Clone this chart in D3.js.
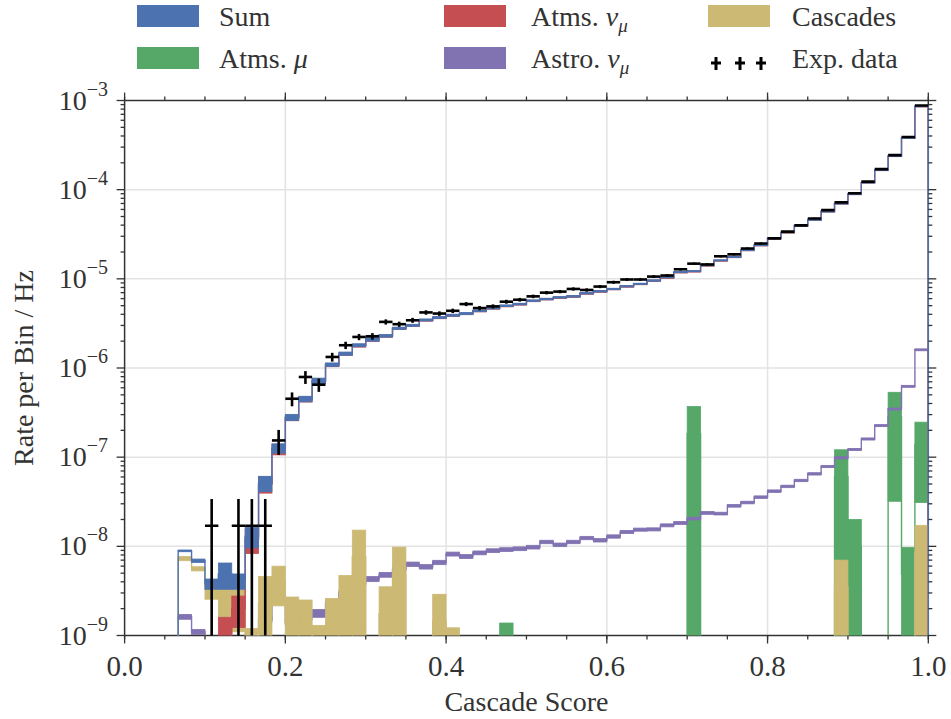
<!DOCTYPE html>
<html>
<head>
<meta charset="utf-8">
<script src="https://cdn.jsdelivr.net/npm/d3@7"></script>
<style>
    body { margin: 0; background: #fff; }
    svg { display: block; }
    svg text { fill: #333; }
</style>
</head>
<body>
<svg id="chart" width="951" height="719" font-family="'Liberation Serif', 'DejaVu Serif', serif"></svg>
<script>
/**
 * Data, one value per bin of cascade score (60 bins from 0 to 1)
 */
var nBins = 60;
var binEdges = d3.range(nBins + 1).map(function(i){ return i / nBins; });

var sumVals = [0,0,0,0, 8.9e-9,6.9e-9,3.8e-9,4.9e-9,4.1e-9,1.3e-8,
    5.1e-8,1.26e-7,2.8e-7,4.5e-7,7.2e-7,1.09e-6,1.45e-6,1.8e-6,2.1e-6,2.3e-6,
    2.79e-6,3.01e-6,3.46e-6,3.68e-6,3.91e-6,4.08e-6,4.38e-6,4.7e-6,4.99e-6,5.21e-6,
    5.69e-6,5.94e-6,6.2e-6,6.37e-6,6.89e-6,7.25e-6,7.7e-6,8.26e-6,8.78e-6,9.58e-6,
    1.04e-5,1.19e-5,1.22e-5,1.42e-5,1.61e-5,1.76e-5,2.1e-5,2.38e-5,2.84e-5,3.32e-5,
    3.95e-5,4.6e-5,5.7e-5,7.0e-5,8.9e-5,1.2e-4,1.66e-4,2.38e-4,3.8e-4,8.6e-4];
var sumErrs = [0,0,0,0, 0.2e-9,0.3e-9,0.5e-9,1.6e-9,0.8e-9,3.4e-9,
    1.0e-8,1.5e-8,2.2e-8,3.2e-8,5e-8,5e-8,6e-8,7e-8,1e-7,8e-8,
    8e-8,8e-8,9e-8,9e-8,1e-7,1e-7,1e-7,1.1e-7,1.1e-7,1.1e-7,
    1.2e-7,1.2e-7,1.2e-7,1.3e-7,1.3e-7,1.4e-7,1.4e-7,1.5e-7,1.5e-7,1.6e-7,
    1.7e-7,1.9e-7,1.9e-7,2.2e-7,2.4e-7,2.6e-7,3e-7,3.3e-7,3.8e-7,4.4e-7,
    5e-7,5.7e-7,7e-7,8.4e-7,1.05e-6,1.4e-6,1.9e-6,2.7e-6,4.2e-6,9.5e-6];

var numuVals = [0,0,0,0, 0,0,0,0.8e-9,2.0e-9,1.2e-8,
    5.0e-8,1.23e-7,2.76e-7,4.45e-7,7.12e-7,1.08e-6,1.44e-6,1.78e-6,2.08e-6,2.28e-6,
    2.77e-6,2.99e-6,3.43e-6,3.65e-6,3.88e-6,4.05e-6,4.35e-6,4.66e-6,4.95e-6,5.17e-6,
    5.65e-6,5.9e-6,6.15e-6,6.32e-6,6.84e-6,7.2e-6,7.65e-6,8.2e-6,8.72e-6,9.52e-6,
    1.03e-5,1.18e-5,1.21e-5,1.41e-5,1.6e-5,1.75e-5,2.09e-5,2.37e-5,2.83e-5,3.3e-5,
    3.93e-5,4.58e-5,5.68e-5,6.97e-5,8.87e-5,1.2e-4,1.65e-4,2.37e-4,3.79e-4,8.58e-4];
var numuErrs = [0,0,0,0, 0,0,0,0.8e-9,0.77e-9,3.7e-9,
    1.05e-8,1.7e-8,2e-8,3e-8,4.5e-8,4.5e-8,5.5e-8,6.5e-8,9e-8,7e-8,
    7e-8,7e-8,8e-8,8e-8,9e-8,9e-8,9e-8,1e-7,1e-7,1e-7,
    1.1e-7,1.1e-7,1.1e-7,1.2e-7,1.2e-7,1.3e-7,1.3e-7,1.4e-7,1.4e-7,1.5e-7,
    1.6e-7,1.8e-7,1.8e-7,2.1e-7,2.3e-7,2.5e-7,2.9e-7,3.2e-7,3.7e-7,4.3e-7,
    4.9e-7,5.6e-7,6.8e-7,8.2e-7,1.03e-6,1.35e-6,1.85e-6,2.6e-6,4.1e-6,9.3e-6];

var muVals = [0,0,0,0,0,0,0,0,0,0, 0,0,0,0,0,0,0,0,0,0,
    0,0,0,0,0,0,0,0,0.69e-9,0, 0,0,0,0,0,0,0,0,0,0,
    0,0,1.85e-7,0,0,0,0,0,0,0, 0,0,0,6.05e-8,1.0e-8,0,0,2.83e-7,4.85e-9,1.39e-7];
var muErrs = [0,0,0,0,0,0,0,0,0,0, 0,0,0,0,0,0,0,0,0,0,
    0,0,0,0,0,0,0,0,0.69e-9,0, 0,0,0,0,0,0,0,0,0,0,
    0,0,1.85e-7,0,0,0,0,0,0,0, 0,0,0,6.05e-8,1.0e-8,0,0,2.51e-7,4.85e-9,1.08e-7];

var astroVals = [0,0,0,0, 1.62e-9,1.1e-9,0.9e-9,0.85e-9,0.9e-9,0.95e-9,
    1.5e-9,2.4e-9,1.4e-9,1.6e-9,1.78e-9,2.3e-9,3.0e-9,3.8e-9,4.3e-9,4.8e-9,
    5.5e-9,6.3e-9,5.9e-9,6.6e-9,8.2e-9,7.7e-9,8.45e-9,8.95e-9,9.2e-9,9.4e-9,
    9.8e-9,1.12e-8,1.04e-8,1.12e-8,1.24e-8,1.17e-8,1.29e-8,1.45e-8,1.54e-8,1.55e-8,
    1.72e-8,1.83e-8,2.05e-8,2.37e-8,2.33e-8,2.85e-8,3.1e-8,3.56e-8,4.16e-8,4.7e-8,
    5.48e-8,6.5e-8,7.86e-8,9.83e-8,1.22e-7,1.6e-7,2.26e-7,3.47e-7,6.23e-7,1.6e-6];
var astroErrs = [0,0,0,0, 0.1e-9,0.07e-9,0.05e-9,0.05e-9,0.05e-9,0.05e-9,
    0.1e-9,0.15e-9,0.1e-9,0.1e-9,0.18e-9,0.2e-9,0.2e-9,0.25e-9,0.28e-9,0.3e-9,
    0.33e-9,0.36e-9,0.34e-9,0.37e-9,0.42e-9,0.4e-9,0.42e-9,0.44e-9,0.45e-9,0.46e-9,
    0.47e-9,0.5e-9,0.48e-9,0.5e-9,0.54e-9,0.52e-9,0.55e-9,0.6e-9,0.62e-9,0.62e-9,
    0.66e-9,0.7e-9,0.75e-9,0.85e-9,0.83e-9,1.0e-9,1.05e-9,1.2e-9,1.35e-9,1.5e-9,
    1.7e-9,2.0e-9,2.3e-9,2.8e-9,3.4e-9,4.4e-9,6e-9,9e-9,1.6e-8,4e-8];

var cascVals = [0,0,0,0, 7.3e-9,5.6e-9,3.3e-9,2.8e-9,2.2e-9,0.6e-9,
    2.3e-9,4.07e-9,1.35e-9,1.25e-9,0.65e-9,1.3e-9,2.35e-9,7.6e-9,0,1.76e-9,
    4.9e-9,0,0,1.45e-9,0.61e-9,0,0,0,0,0, 0,0,0,0,0,0,0,0,0,0,
    0,0,0,0,0,0,0,0,0,0, 0,0,0,3.5e-9,0,0,0,0,0,8.6e-9];
var cascErrs = [0,0,0,0, 0.4e-9,0.3e-9,0.75e-9,1.2e-9,1.1e-9,0.6e-9,
    2.3e-9,1.92e-9,1.35e-9,1.25e-9,0.65e-9,1.3e-9,2.35e-9,7.6e-9,0,1.76e-9,
    4.9e-9,0,0,1.45e-9,0.61e-9,0,0,0,0,0, 0,0,0,0,0,0,0,0,0,0,
    0,0,0,0,0,0,0,0,0,0, 0,0,0,3.5e-9,0,0,0,0,0,8.6e-9];

var dataVals = [0,0,0,0, 0,0,1.7e-8,0,1.7e-8,1.7e-8,
    1.7e-8,1.54e-7,4.52e-7,7.93e-7,6.5e-7,1.33e-6,1.8e-6,2.23e-6,2.27e-6,3.29e-6,
    3.1e-6,3.43e-6,4.2e-6,4.08e-6,4.38e-6,5.21e-6,4.7e-6,4.91e-6,5.54e-6,5.83e-6,
    6.36e-6,7.0e-6,7.19e-6,7.7e-6,7.5e-6,8.19e-6,9.16e-6,9.83e-6,9.83e-6,1.06e-5,
    1.09e-5,1.28e-5,1.48e-5,1.45e-5,1.79e-5,1.88e-5,2.19e-5,2.49e-5,2.84e-5,3.38e-5,
    3.98e-5,4.75e-5,5.9e-5,7.2e-5,9.1e-5,1.23e-4,1.7e-4,2.44e-4,3.9e-4,8.8e-4];
var dataErrs = [0,0,0,0, 0,0,1.7e-8,0,1.7e-8,1.7e-8,
    1.7e-8,4.8e-8,8e-8,1.3e-7,1.1e-7,1.5e-7,1.7e-7,1.8e-7,1.9e-7,2.2e-7,
    2.1e-7,2.2e-7,2.4e-7,2.4e-7,2.5e-7,2.7e-7,2.6e-7,2.6e-7,2.8e-7,2.8e-7,
    2.9e-7,3.1e-7,3.1e-7,3.2e-7,3.2e-7,3.3e-7,3.5e-7,3.6e-7,3.6e-7,3.8e-7,
    3.8e-7,4.1e-7,4.4e-7,4.4e-7,4.9e-7,5e-7,5.4e-7,5.8e-7,6.2e-7,6.7e-7,
    7.3e-7,8e-7,8.9e-7,9.8e-7,1.1e-6,1.3e-6,1.5e-6,1.8e-6,2.3e-6,3.4e-6];

var xTicks = [0, 0.2, 0.4, 0.6, 0.8, 1.0];
var yTicks = [1e-9, 1e-8, 1e-7, 1e-6, 1e-5, 1e-4, 1e-3];
var yTickExps = ["\u22129", "\u22128", "\u22127", "\u22126", "\u22125", "\u22124", "\u22123"];

// colours (seaborn "deep")
var colors = {
    sum: "#4c72b0", mu: "#55a868", numu: "#c44e52",
    astro: "#8172b2", casc: "#ccb974", data: "#000"
};

// layout
var plotLeft = 124.6, plotRight = 928.3, plotTop = 100.5, plotBottom = 635.5;
var fontFamily = "'Liberation Serif', 'DejaVu Serif', serif";

window.onload = function(){
    drawChart();
};

function drawChart(){
    let svg = d3.select("#chart");

    let xScale = d3.scaleLinear().domain([0, 1]).range([plotLeft, plotRight]);
    let yScale = d3.scaleLog().domain([1e-9, 1e-3]).range([plotBottom, plotTop]);

    // values <= 0 drop below the axis (clipped)
    function yPos(v){
        return v > 0 ? Math.min(yScale(v), plotBottom + 30) : plotBottom + 30;
    }

    // grid
    let grid = svg.append("g");
    grid.selectAll("line.gx")
        .data(xTicks.slice(1, -1))
        .enter().append("line")
        .attr("x1", d => xScale(d)).attr("x2", d => xScale(d))
        .attr("y1", plotTop).attr("y2", plotBottom)
        .style("stroke", "#e3e3e3").style("stroke-width", 1.5);
    grid.selectAll("line.gy")
        .data(yTicks.slice(1, -1))
        .enter().append("line")
        .attr("x1", plotLeft).attr("x2", plotRight)
        .attr("y1", d => yScale(d)).attr("y2", d => yScale(d))
        .style("stroke", "#e3e3e3").style("stroke-width", 1.5);

    // clip for the histograms
    svg.append("clipPath").attr("id", "plotClip")
        .append("rect")
        .attr("x", plotLeft - 2).attr("y", plotTop)
        .attr("width", plotRight - plotLeft + 4)
        .attr("height", plotBottom - plotTop);

    // frame
    svg.append("rect")
        .attr("x", plotLeft).attr("y", plotTop)
        .attr("width", plotRight - plotLeft).attr("height", plotBottom - plotTop)
        .style("fill", "none").style("stroke", "#333").style("stroke-width", 1.5);

    let plot = svg.append("g").attr("clip-path", "url(#plotClip)");

    // draw order: atms mu, astro, cascades, atms numu, sum
    drawHist(plot, muVals, muErrs, colors.mu);
    drawHist(plot, astroVals, astroErrs, colors.astro);
    drawHist(plot, cascVals, cascErrs, colors.casc);
    drawHist(plot, numuVals, numuErrs, colors.numu);
    drawHist(plot, sumVals, sumErrs, colors.sum);

    // experimental data as error crosses
    let dataIdx = d3.range(nBins).filter(i => dataVals[i] > 0);
    let crosses = plot.append("g");
    crosses.selectAll("line.h")
        .data(dataIdx).enter().append("line")
        .attr("x1", i => xScale(binEdges[i])).attr("x2", i => xScale(binEdges[i + 1]))
        .attr("y1", i => yScale(dataVals[i])).attr("y2", i => yScale(dataVals[i]))
        .style("stroke", colors.data).style("stroke-width", 2.6);
    crosses.selectAll("line.v")
        .data(dataIdx).enter().append("line")
        .attr("x1", i => xScale((binEdges[i] + binEdges[i + 1]) / 2))
        .attr("x2", i => xScale((binEdges[i] + binEdges[i + 1]) / 2))
        .attr("y1", i => yPos(dataVals[i] + dataErrs[i]))
        .attr("y2", i => yPos(dataVals[i] - dataErrs[i]))
        .style("stroke", colors.data).style("stroke-width", 2.6);

    drawAxes(svg, xScale, yScale);
    drawLegend(svg);

    /**
     * one component: filled band (value +- error) per bin plus a step line
     */
    function drawHist(g, vals, errs, color){
        let idx = d3.range(nBins).filter(i => vals[i] > 0);
        g.append("g").selectAll("rect")
            .data(idx).enter().append("rect")
            .attr("x", i => xScale(binEdges[i]))
            .attr("width", i => xScale(binEdges[i + 1]) - xScale(binEdges[i]))
            .attr("y", i => yPos(vals[i] + errs[i]))
            .attr("height", i => Math.max(0.5, yPos(vals[i] - errs[i]) - yPos(vals[i] + errs[i])))
            .style("fill", color)
            .style("stroke", color).style("stroke-width", 0.8);

        let pts = [[binEdges[0], 0]];
        for (let i = 0; i < nBins; i++) pts.push([binEdges[i], vals[i]]);
        pts.push([binEdges[nBins], vals[nBins - 1]]);
        pts.push([binEdges[nBins], 0]);
        let line = d3.line()
            .x(d => xScale(d[0]))
            .y(d => yPos(d[1]))
            .curve(d3.curveStepAfter);
        g.append("path")
            .attr("d", line(pts))
            .style("fill", "none")
            .style("stroke", color)
            .style("stroke-width", 1.4);
    }
}

function drawAxes(svg, xScale, yScale){
    let tickColor = "#333";
    let xMinor = d3.range(0, 1.0001, 0.05);
    let yMinor = [];
    for (let e = -9; e < -3; e++)
        for (let m = 2; m <= 9; m++) yMinor.push(m * Math.pow(10, e));

    function tickLines(g, vals, pos, len, side){
        g.selectAll(null).data(vals).enter().append("line")
            .attr("x1", d => side === "b" || side === "t" ? xScale(d) : pos)
            .attr("x2", d => side === "b" || side === "t" ? xScale(d) :
                (side === "l" ? pos - len : pos + len))
            .attr("y1", d => side === "l" || side === "r" ? yScale(d) : pos)
            .attr("y2", d => side === "l" || side === "r" ? yScale(d) :
                (side === "b" ? pos + len : pos - len))
            .style("stroke", tickColor).style("stroke-width", 1.3);
    }

    let ax = svg.append("g");
    tickLines(ax, xTicks, plotBottom, 8, "b");
    tickLines(ax, xMinor, plotBottom, 4, "b");
    tickLines(ax, xTicks, plotTop, 8, "t");
    tickLines(ax, xMinor, plotTop, 4, "t");
    tickLines(ax, yTicks, plotLeft, 8, "l");
    tickLines(ax, yMinor, plotLeft, 4, "l");
    tickLines(ax, yTicks, plotRight, 8, "r");
    tickLines(ax, yMinor, plotRight, 4, "r");

    // x tick labels
    ax.selectAll("text.xl").data(xTicks).enter().append("text")
        .attr("x", d => xScale(d)).attr("y", 676)
        .attr("text-anchor", "middle")
        .attr("font-family", fontFamily)
        .style("font-size", "29px")
        .text(d => d3.format(".1f")(d));

    // y tick labels as 10^n
    let yl = ax.selectAll("text.yl").data(yTicks).enter().append("text")
        .attr("x", 108).attr("y", d => yScale(d) + 9)
        .attr("text-anchor", "end")
        .attr("font-family", fontFamily)
        .style("font-size", "28px");
    yl.append("tspan").text("10");
    yl.append("tspan")
        .attr("dy", -14).style("font-size", "20px")
        .text((d, i) => yTickExps[i]);

    // axis titles
    svg.append("text")
        .attr("x", (plotLeft + plotRight) / 2).attr("y", 711)
        .attr("text-anchor", "middle")
        .attr("font-family", fontFamily)
        .style("font-size", "28px")
        .text("Cascade Score");
    svg.append("text")
        .attr("transform", "translate(33," + ((plotTop + plotBottom) / 2) + ") rotate(-90)")
        .attr("text-anchor", "middle")
        .attr("font-family", fontFamily)
        .style("font-size", "28px")
        .text("Rate per Bin / Hz");
}

function drawLegend(svg){
    let items = [
        {label: "Sum", color: colors.sum, px: 137, tx: 219, row: 0},
        {label: "Atms. ", sym: "\u03bc", color: colors.mu, px: 137, tx: 219, row: 1},
        {label: "Atms. ", sym: "\u03bd", sub: "\u03bc", color: colors.numu, px: 444, tx: 531, row: 0},
        {label: "Astro. ", sym: "\u03bd", sub: "\u03bc", color: colors.astro, px: 444, tx: 531, row: 1},
        {label: "Cascades", color: colors.casc, px: 708, tx: 792, row: 0},
        {label: "Exp. data", color: null, px: 708, tx: 792, row: 1}
    ];
    let rowTop = [5, 47], rowBase = [26, 68];
    let lg = svg.append("g");

    items.forEach(function(it){
        if (it.color){
            lg.append("rect")
                .attr("x", it.px).attr("y", rowTop[it.row])
                .attr("width", 62).attr("height", 22)
                .style("fill", it.color);
        } else {
            // three little error crosses
            [716, 740, 761].forEach(function(cx){
                lg.append("line").attr("x1", cx - 5).attr("x2", cx + 5)
                    .attr("y1", 63).attr("y2", 63)
                    .style("stroke", "#000").style("stroke-width", 3);
                lg.append("line").attr("x1", cx).attr("x2", cx)
                    .attr("y1", 57).attr("y2", 70)
                    .style("stroke", "#000").style("stroke-width", 3);
            });
        }
        let t = lg.append("text")
            .attr("x", it.tx).attr("y", rowBase[it.row])
            .attr("font-family", fontFamily)
            .style("font-size", "28px");
        t.append("tspan").text(it.label);
        if (it.sym) t.append("tspan").style("font-style", "italic").text(it.sym);
        if (it.sub) t.append("tspan").attr("dy", 6)
            .style("font-style", "italic").style("font-size", "19px").text(it.sub);
    });
}
</script>
</body>
</html>
